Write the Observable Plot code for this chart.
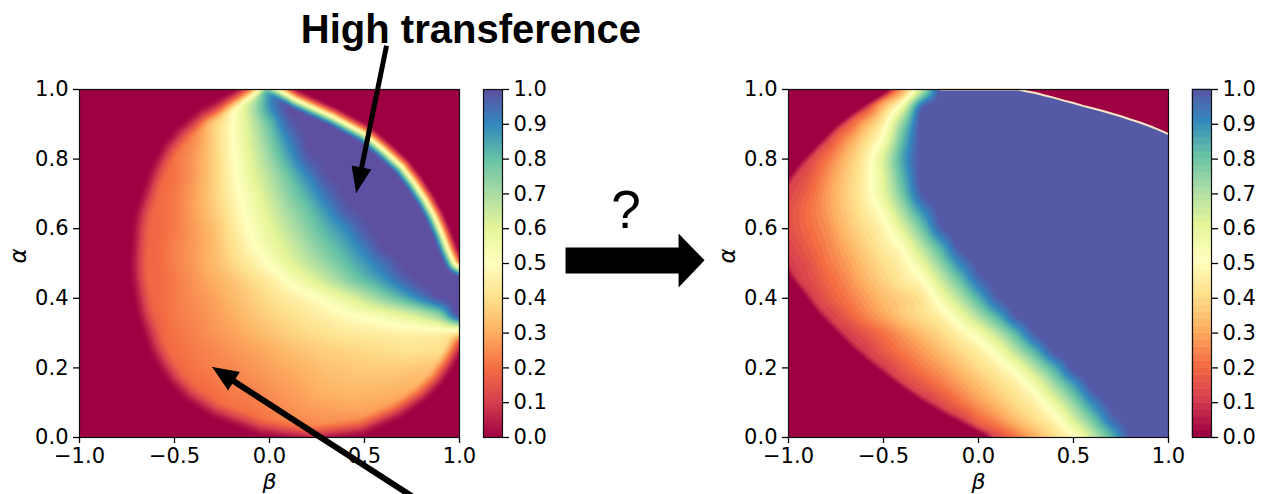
<!DOCTYPE html>
<html>
<head>
<meta charset="utf-8">
<script src="https://cdn.jsdelivr.net/npm/d3@7"></script>
<script src="https://cdn.jsdelivr.net/npm/@observablehq/plot@0.6"></script>
<style>
  html, body { margin: 0; padding: 0; background: #ffffff; }
  #fig { position: relative; width: 1265px; height: 494px; overflow: hidden; background: #ffffff; }
  #fig svg { position: absolute; top: 0; }
</style>
</head>
<body>
<div id="fig"></div>
<script>
// ---------------- data ----------------
const betaGrid = [-1, -0.9, -0.8, -0.7, -0.6, -0.5, -0.4, -0.3, -0.2, -0.1, 0, 0.1, 0.2, 0.3, 0.4, 0.5, 0.6, 0.7, 0.8, 0.9, 1];
const alphaGrid = [1, 0.95, 0.9, 0.85, 0.8, 0.75, 0.7, 0.65, 0.6, 0.55, 0.5, 0.45, 0.4, 0.35, 0.3, 0.25, 0.2, 0.15, 0.1, 0.05, 0];

// left panel: value field at (beta, alpha) (rows follow alphaGrid, columns betaGrid)
const leftValues = [
  [0.2,0.2,0.2,0.2,0.2,0.2,0.2,0.26,0.4,0.55,0.88,1,1,1,1,1,1,1,1,1,1],
  [0.2,0.2,0.2,0.2,0.2,0.2,0.2,0.25,0.46,0.66,0.88,1,1,1,1,1,1,1,1,1,1],
  [0.19,0.19,0.19,0.19,0.19,0.19,0.22,0.35,0.49,0.64,0.8,0.96,1,1,1,1,1,1,1,1,1],
  [0.19,0.19,0.19,0.19,0.19,0.2,0.25,0.36,0.49,0.62,0.76,0.9,1,1,1,1,1,1,1,1,1],
  [0.19,0.19,0.19,0.19,0.19,0.21,0.27,0.36,0.48,0.6,0.72,0.85,0.97,1,1,1,1,1,1,1,1],
  [0.19,0.19,0.19,0.19,0.19,0.21,0.27,0.36,0.47,0.58,0.68,0.79,0.9,0.99,1,1,1,1,1,1,1],
  [0.19,0.19,0.19,0.19,0.19,0.22,0.28,0.36,0.46,0.55,0.65,0.75,0.84,0.94,1,1,1,1,1,1,1],
  [0.19,0.19,0.19,0.19,0.19,0.22,0.28,0.35,0.44,0.53,0.62,0.71,0.79,0.88,0.97,1,1,1,1,1,1],
  [0.19,0.19,0.19,0.19,0.19,0.22,0.27,0.33,0.42,0.51,0.59,0.67,0.75,0.83,0.9,0.98,1,1,1,1,1],
  [0.19,0.19,0.19,0.19,0.19,0.23,0.27,0.32,0.4,0.48,0.56,0.63,0.71,0.78,0.85,0.93,1,1,1,1,1],
  [0.19,0.19,0.19,0.19,0.19,0.23,0.27,0.32,0.38,0.44,0.51,0.59,0.66,0.73,0.8,0.87,0.94,1,1,1,1],
  [0.19,0.19,0.19,0.19,0.19,0.22,0.26,0.3,0.34,0.39,0.44,0.51,0.58,0.65,0.73,0.8,0.87,0.95,1,1,1],
  [0.19,0.19,0.19,0.19,0.19,0.22,0.25,0.28,0.32,0.36,0.4,0.44,0.48,0.53,0.59,0.66,0.74,0.82,0.91,0.99,1],
  [0.18,0.18,0.18,0.18,0.18,0.22,0.24,0.27,0.3,0.34,0.37,0.4,0.43,0.46,0.49,0.52,0.55,0.59,0.65,0.75,1],
  [0.17,0.17,0.17,0.17,0.17,0.21,0.23,0.26,0.28,0.31,0.34,0.37,0.39,0.41,0.43,0.44,0.45,0.46,0.46,0.46,0.44],
  [0.17,0.17,0.17,0.17,0.17,0.2,0.22,0.24,0.26,0.28,0.3,0.33,0.35,0.37,0.38,0.39,0.4,0.41,0.41,0.4,0.38],
  [0.17,0.17,0.17,0.17,0.17,0.18,0.21,0.23,0.24,0.26,0.28,0.3,0.32,0.34,0.35,0.36,0.36,0.36,0.35,0.34,0.32],
  [0.17,0.17,0.17,0.17,0.17,0.17,0.19,0.21,0.23,0.24,0.26,0.28,0.3,0.32,0.33,0.33,0.33,0.32,0.31,0.3,0.29],
  [0.17,0.17,0.17,0.17,0.17,0.17,0.17,0.19,0.21,0.22,0.24,0.26,0.28,0.29,0.3,0.3,0.29,0.28,0.27,0.26,0.25],
  [0.17,0.17,0.17,0.17,0.17,0.17,0.17,0.17,0.19,0.2,0.22,0.24,0.25,0.26,0.26,0.26,0.25,0.24,0.23,0.23,0.23],
  [0.17,0.17,0.17,0.17,0.17,0.17,0.17,0.17,0.17,0.19,0.21,0.23,0.24,0.25,0.25,0.24,0.23,0.23,0.23,0.23,0.23]
];
// left panel: outer edge of the coloured disc (beta, alpha), where the value falls to 0
const leftOutline = [
  [-0.02,1.06],[0.16,1.0],[0.36,0.95],[0.53,0.9],[0.64,0.85],[0.74,0.8],[0.81,0.75],[0.87,0.7],[0.92,0.65],
  [0.96,0.6],[0.995,0.55],[1.02,0.52],[1.3,0.45],[1.3,0.3],[1.03,0.25],[0.98,0.2],[0.92,0.15],[0.83,0.1],
  [0.7,0.05],[0.5,0.0],[0.22,-0.02],[-0.06,0.0],[-0.31,0.05],[-0.45,0.1],[-0.54,0.15],[-0.6,0.2],[-0.65,0.25],
  [-0.68,0.3],[-0.71,0.35],[-0.725,0.4],[-0.74,0.45],[-0.745,0.5],[-0.74,0.55],[-0.735,0.6],[-0.72,0.65],
  [-0.69,0.7],[-0.66,0.75],[-0.62,0.8],[-0.57,0.85],[-0.49,0.9],[-0.38,0.95],[-0.2,1.0]
];

// right panel: value field at (beta, alpha)
const rightValues = [
  [0.1,0.1,0.1,0.1,0.1,0.12,0.3,0.67,1,1,1,1,1,1,1,1,1,1,1,1,1],
  [0.1,0.1,0.1,0.1,0.14,0.34,0.58,0.96,1,1,1,1,1,1,1,1,1,1,1,1,1],
  [0.1,0.1,0.1,0.16,0.31,0.47,0.75,1,1,1,1,1,1,1,1,1,1,1,1,1,1],
  [0.1,0.1,0.14,0.27,0.4,0.55,0.82,1,1,1,1,1,1,1,1,1,1,1,1,1,1],
  [0.1,0.12,0.22,0.33,0.45,0.63,0.86,1,1,1,1,1,1,1,1,1,1,1,1,1,1],
  [0.11,0.16,0.26,0.36,0.46,0.62,0.83,1,1,1,1,1,1,1,1,1,1,1,1,1,1],
  [0.13,0.19,0.28,0.37,0.46,0.6,0.79,0.98,1,1,1,1,1,1,1,1,1,1,1,1,1],
  [0.15,0.21,0.28,0.36,0.44,0.54,0.71,0.89,1,1,1,1,1,1,1,1,1,1,1,1,1],
  [0.15,0.2,0.26,0.34,0.41,0.48,0.62,0.79,0.97,1,1,1,1,1,1,1,1,1,1,1,1],
  [0.13,0.18,0.24,0.31,0.38,0.45,0.53,0.69,0.85,1,1,1,1,1,1,1,1,1,1,1,1],
  [0.11,0.15,0.22,0.28,0.35,0.41,0.47,0.59,0.75,0.91,1,1,1,1,1,1,1,1,1,1,1],
  [0.1,0.13,0.19,0.25,0.32,0.38,0.44,0.5,0.65,0.8,0.95,1,1,1,1,1,1,1,1,1,1],
  [0.1,0.1,0.16,0.22,0.28,0.34,0.38,0.43,0.55,0.69,0.84,0.98,1,1,1,1,1,1,1,1,1],
  [0.1,0.1,0.11,0.17,0.24,0.3,0.36,0.41,0.465,0.57,0.71,0.85,0.99,1,1,1,1,1,1,1,1],
  [0.1,0.1,0.1,0.11,0.16,0.22,0.28,0.34,0.4,0.47,0.56,0.69,0.84,0.99,1,1,1,1,1,1,1],
  [0.1,0.1,0.1,0.1,0.11,0.17,0.23,0.28,0.34,0.4,0.46,0.55,0.7,0.85,1,1,1,1,1,1,1],
  [0.1,0.1,0.1,0.1,0.1,0.11,0.17,0.23,0.28,0.34,0.4,0.46,0.55,0.7,0.85,1,1,1,1,1,1],
  [0.1,0.1,0.1,0.1,0.1,0.1,0.12,0.16,0.22,0.28,0.34,0.4,0.46,0.56,0.72,0.87,1,1,1,1,1],
  [0.1,0.1,0.1,0.1,0.1,0.1,0.1,0.1,0.14,0.21,0.28,0.34,0.41,0.47,0.59,0.75,0.91,1,1,1,1],
  [0.1,0.1,0.1,0.1,0.1,0.1,0.1,0.1,0.1,0.11,0.19,0.26,0.34,0.41,0.48,0.63,0.79,0.95,1,1,1],
  [0.1,0.1,0.1,0.1,0.1,0.1,0.1,0.1,0.1,0.1,0.1,0.14,0.23,0.32,0.41,0.5,0.67,0.83,1,1,1]
];
// right panel: outer edge of the coloured crescent (beta, alpha)
const rightOutline = [
  [0.2,-0.1],[0.03,0.0],[-0.15,0.05],[-0.31,0.1],[-0.44,0.15],[-0.56,0.2],[-0.67,0.25],[-0.76,0.3],[-0.85,0.35],
  [-0.92,0.4],[-0.99,0.45],[-1.05,0.5],[-1.1,0.55],[-1.12,0.6],[-1.11,0.65],[-1.07,0.7],[-1.01,0.75],[-0.94,0.8],
  [-0.85,0.85],[-0.76,0.9],[-0.64,0.95],[-0.49,1.0],[-0.4,1.05],[-0.3,1.3],[1.3,1.3],[1.3,-0.3],[0.3,-0.3]
];
// right panel: upper-right boundary where the value drops back to 0
const topEdgeBeta  = [-0.2, 0.0, 0.21, 0.25, 0.3, 0.35, 0.4, 0.45, 0.5, 0.55, 0.6, 0.65, 0.7, 0.75, 0.8, 0.85, 0.9, 0.95, 1.0];
const topEdgeAlpha = [1.0, 1.0, 1.0, 0.995, 0.99, 0.983, 0.976, 0.968, 0.961, 0.953, 0.946, 0.939, 0.931, 0.923, 0.914, 0.905, 0.895, 0.884, 0.872];

const betaTicks = [-1, -0.5, 0, 0.5, 1];
const alphaTicks = [0, 0.2, 0.4, 0.6, 0.8, 1];
const colorbarTicks = [0, 0.1, 0.2, 0.3, 0.4, 0.5, 0.6, 0.7, 0.8, 0.9, 1];
const spectralStops = [0, 0.1, 0.2, 0.3, 0.4, 0.5, 0.6, 0.7, 0.8, 0.9, 1];
const spectralColors = ["#9e0142","#d53e4f","#f46d43","#fdae61","#fee08b","#ffffbf","#e6f598","#abdda4","#66c2a5","#3288bd","#5e4fa2"];

// ---------------- layout ----------------
const H = 494, M_LEFT = 79, M_TOP = 89, M_BOTTOM = 57, FRAME_W = 380, FRAME_H = 348;
const pxB = FRAME_W / 2, pxA = FRAME_H / 1;
const FS = 21;

// smooth (Catmull-Rom) resampling of a value grid
function gridSampler(values) {
  const nB = betaGrid.length, nA = alphaGrid.length;
  const b0 = betaGrid[0], db = betaGrid[1] - betaGrid[0];
  const a0 = alphaGrid[0], da = alphaGrid[1] - alphaGrid[0];
  const get = (i, j) => values[Math.max(0, Math.min(nA - 1, i))][Math.max(0, Math.min(nB - 1, j))];
  const cr = (p0, p1, p2, p3, t) => p1 + 0.5 * t * (p2 - p0 + t * (2 * p0 - 5 * p1 + 4 * p2 - p3 + t * (3 * (p1 - p2) + p3 - p0)));
  return (x, y) => {
    const fx = (x - b0) / db, fy = (y - a0) / da;
    const j = Math.floor(fx), i = Math.floor(fy);
    const tx = fx - j, ty = fy - i;
    const r = [-1, 0, 1, 2].map(di => cr(get(i + di, j - 1), get(i + di, j), get(i + di, j + 1), get(i + di, j + 2), tx));
    return Math.max(0, Math.min(1, cr(r[0], r[1], r[2], r[3], ty)));
  };
}
// the field inside an outline, fading to 0 over `edgePx` pixels at the outline
function maskedSampler(values, outline, edgePx) {
  const base = gridSampler(values);
  const poly = outline.map(([b, a]) => [(b + 1) * pxB, (1 - a) * pxA]);
  const n = poly.length;
  return (x, y) => {
    const px = (x + 1) * pxB, py = (1 - y) * pxA;
    if (!d3.polygonContains(poly, [px, py])) return 0;
    let dmin = Infinity;
    for (let k = 0; k < n; ++k) {
      const [x0, y0] = poly[k], [x1, y1] = poly[(k + 1) % n];
      const dx = x1 - x0, dy = y1 - y0;
      const t = Math.max(0, Math.min(1, ((px - x0) * dx + (py - y0) * dy) / (dx * dx + dy * dy)));
      const ex = x0 + t * dx - px, ey = y0 + t * dy - py;
      dmin = Math.min(dmin, ex * ex + ey * ey);
    }
    const t = Math.min(1, Math.sqrt(dmin) / edgePx);
    return base(x, y) * t * t * (3 - 2 * t);
  };
}

const edgeTable = topEdgeBeta.map((b, i) => ({beta: b, alpha: topEdgeAlpha[i]}));
const contourLevels = d3.range(0, 1, 0.02);

const color = {type: "linear", domain: spectralStops, range: spectralColors, clamp: true};
const style = {fontFamily: "'DejaVu Sans', sans-serif", fontSize: FS + "px", color: "#000", background: "transparent", overflow: "visible"};
const axisOpts = {tickSize: 6, tickPadding: 5, tickFormat: ".1f", label: null, fontSize: FS, strokeWidth: 1.3};

function axesAndLabels() {
  return [
    Plot.frame({stroke: "#111", strokeWidth: 1.2}),
    Plot.axisX(betaTicks, axisOpts),
    Plot.axisY(alphaTicks, axisOpts),
    Plot.text(["β"], {frameAnchor: "bottom", dy: 51, lineAnchor: "bottom", fontStyle: "italic", fontSize: 22}),
    Plot.text(["α"], {frameAnchor: "left", dx: -54, rotate: -90, lineAnchor: "bottom", fontStyle: "italic", fontSize: 23})
  ];
}

// annotations, in the left panel's (beta, alpha) units
const titleNote = [{x: 1.06, y: 1.135, text: "High transference"}];
const questionNote = [{x: 1.876, y: 0.603, text: "?"}];
const annotArrows = [
  {x1: 0.616, y1: 1.126, x2: 0.458, y2: 0.704, w: 5, headL: 25, headW: 19},
  {x1: 0.753, y1: -0.17, x2: -0.30, y2: 0.201, w: 6, headL: 25, headW: 21}
];
const blockArrow = [
  {x: 1.558, y: 0.546}, {x: 2.153, y: 0.546}, {x: 2.153, y: 0.586}, {x: 2.290, y: 0.509},
  {x: 2.153, y: 0.431}, {x: 2.153, y: 0.471}, {x: 1.558, y: 0.471}
];

function arrowParts(a) {
  const dx = (a.x2 - a.x1) * pxB, dy = -(a.y2 - a.y1) * pxA;
  const len = Math.hypot(dx, dy), ux = dx / len, uy = dy / len;
  const nx = -uy, ny = ux;
  const bx = -a.headL * ux, by = -a.headL * uy;
  const pts = [[0, 0], [bx + nx * a.headW / 2, by + ny * a.headW / 2], [bx - nx * a.headW / 2, by - ny * a.headW / 2]];
  const head = pts.map(([px, py]) => ({x: a.x2 + px / pxB, y: a.y2 - py / pxA}));
  const sx = -(a.headL - 6) * ux, sy = -(a.headL - 6) * uy;
  const shaft = [{x1: a.x1, y1: a.y1, x2: a.x2 + sx / pxB, y2: a.y2 - sy / pxA}];
  return {head, shaft};
}
const arrowMarks = annotArrows.flatMap(a => {
  const {head, shaft} = arrowParts(a);
  return [
    Plot.link(shaft, {x1: "x1", y1: "y1", x2: "x2", y2: "y2", stroke: "#000", strokeWidth: a.w}),
    Plot.line(head, {x: "x", y: "y", fill: "#000", stroke: "#000", strokeWidth: 1})
  ];
});

// ---------------- plots ----------------
const leftPlot = Plot.plot({
  width: 720, height: H,
  marginLeft: M_LEFT, marginRight: 720 - M_LEFT - FRAME_W, marginTop: M_TOP, marginBottom: M_BOTTOM,
  x: {domain: [-1, 1]}, y: {domain: [0, 1]},
  color, style,
  marks: [
    Plot.raster({fill: maskedSampler(leftValues, leftOutline, 22), x1: -1, x2: 1, y1: 0, y2: 1, pixelSize: 1}),
    ...axesAndLabels(),
    ...arrowMarks,
    Plot.line(blockArrow, {x: "x", y: "y", fill: "#000", stroke: "none"}),
    Plot.text(titleNote, {x: "x", y: "y", text: "text", lineAnchor: "bottom", fontSize: 40, fontWeight: "bold", fontFamily: "'Liberation Sans', Arial, sans-serif"}),
    Plot.text(questionNote, {x: "x", y: "y", text: "text", lineAnchor: "bottom", fontSize: 53, fontFamily: "'Liberation Sans', Arial, sans-serif"})
  ]
});

const rightPlot = Plot.plot({
  width: M_LEFT + FRAME_W + 20, height: H,
  marginLeft: M_LEFT, marginRight: 20, marginTop: M_TOP, marginBottom: M_BOTTOM,
  x: {domain: [-1, 1]}, y: {domain: [0, 1]},
  color, style,
  marks: [
    Plot.contour({fill: maskedSampler(rightValues, rightOutline, 9), x1: -1, x2: 1, y1: 0, y2: 1, thresholds: contourLevels, stroke: "none", pixelSize: 1}),
    Plot.areaY(edgeTable, {x: "beta", y1: "alpha", y2: () => 1, fill: () => 0}),
    Plot.line(edgeTable, {x: "beta", y: "alpha", stroke: "#fbe7c4", strokeWidth: 2}),
    ...axesAndLabels()
  ]
});

function colorbar(banded) {
  return Plot.plot({
    width: 95, height: H, marginLeft: 0, marginRight: 76, marginTop: M_TOP, marginBottom: M_BOTTOM,
    x: {domain: [0, 1], axis: null}, y: {domain: [0, 1]},
    color, style,
    marks: [
      banded
        ? Plot.rect(contourLevels, {x1: 0, x2: 1, y1: d => d, y2: d => Math.min(1, d + 0.02), fill: d => d, stroke: d => d, strokeWidth: 0.5})
        : Plot.raster({x1: 0, x2: 1, y1: 0, y2: 1, fill: (x, y) => y, pixelSize: 1}),
      Plot.frame({stroke: "#111", strokeWidth: 1.2}),
      Plot.axisY(colorbarTicks, {...axisOpts, anchor: "right"})
    ]
  });
}

const fig = document.getElementById("fig");
const place = (node, left) => { node.style.left = left + "px"; node.style.top = "0px"; fig.appendChild(node); };
place(colorbar(false), 483);
place(rightPlot, 709);
place(colorbar(true), 1192);
place(leftPlot, 0);
</script>
</body>
</html>
